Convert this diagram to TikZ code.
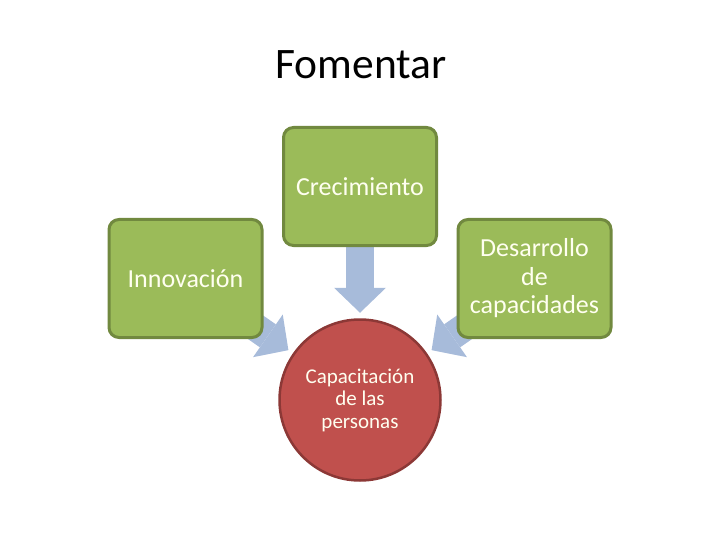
\documentclass[tikz,border=0pt]{standalone}
\usepackage{fontspec}
\setmainfont{Carlito}
\usetikzlibrary{arrows.meta,backgrounds}
\definecolor{boxgreen}{RGB}{155,187,89}
\definecolor{boxline}{RGB}{113,137,63}
\definecolor{circred}{RGB}{192,80,77}
\definecolor{circline}{RGB}{140,56,54}
\definecolor{flowblue}{RGB}{167,187,218}
\definecolor{paletext}{RGB}{255,255,240}

\begin{document}
\begin{tikzpicture}[x=1pt,y=-1pt,
  greenbox/.style={draw=boxline,line width=3pt,fill=boxgreen,rounded corners=10pt,minimum width=153pt,minimum height=118pt,text=paletext,align=center,font=\fontsize{26}{28.5}\selectfont},
  redcirc/.style={circle,draw=circline,line width=2.5pt,fill=circred,minimum size=161pt,text=paletext,align=center,font=\fontsize{21}{22.5}\selectfont},
  flow/.style={draw=flowblue,line width=28pt,-{Triangle[length=25pt,width=52pt,line width=0pt]},shorten >=5.5pt,shorten <=-10pt}]
\useasboundingbox (0,0) rectangle (720,540);
\node[anchor=base,font=\fontsize{43.5}{50}\selectfont] (title) at (361,79) {Fomentar};
\node[greenbox] (crec) at (360,186.5) {Crecimiento};
\node[greenbox] (innov) at (185.5,278.5) {Innovación};
\node[greenbox] (desarr) at (534.5,278.5) {Desarrollo\\de\\capacidades};
\node[redcirc] (capac) at (360,400) {Capacitación\\de las\\personas};
% arrows behind the boxes
\begin{scope}[on background layer]
\draw[flow] (crec) -- (capac);
\draw[flow] (innov) -- (capac);
\draw[flow] (desarr) -- (capac);
\end{scope}
\end{tikzpicture}
\end{document}
